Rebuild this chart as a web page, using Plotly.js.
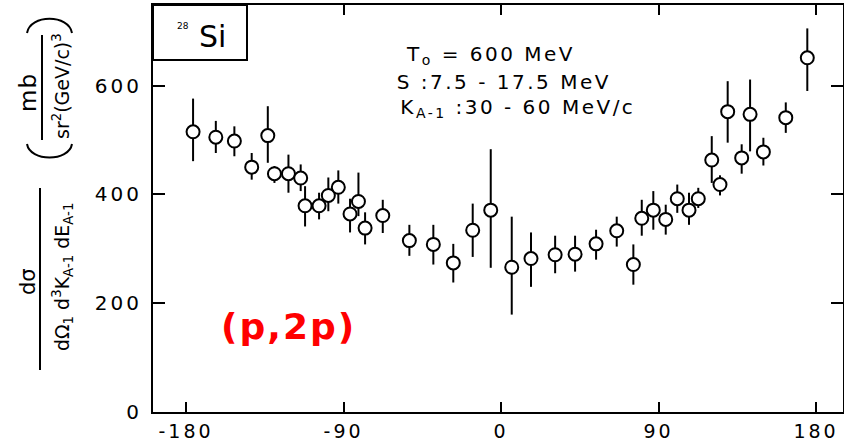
<!DOCTYPE html>
<html>
<head>
<meta charset="utf-8">
<script src="https://cdn.plot.ly/plotly-3.0.1.min.js"></script>
<style>
  html, body { margin: 0; padding: 0; background: #fff; }
  #chart { width: 844px; height: 445px; }
  #chart .xtick text, #chart .ytick text { letter-spacing: 3px; }
  #chart .annotation[data-index="2"] text { letter-spacing: 2px; }
  #chart .annotation[data-index="3"] text,
  #chart .annotation[data-index="4"] text,
  #chart .annotation[data-index="5"] text { letter-spacing: 2.5px; }
  #chart .annotation[data-index="6"] text { letter-spacing: 1px; }
</style>
</head>
<body>
<div id="chart"></div>
<script>
// ---- data ----
const angle = [-176, -163, -152.4, -142.5, -133.3, -129.5, -121.5, -114.5, -112, -104,
  -98.7, -93, -86.3, -81.5, -77.7, -67.6, -52.4, -38.7, -27.3, -16.2,
  -5.9, 6.1, 17.1, 30.9, 42.3, 54.3, 66.1, 75.6, 80.4, 87.0,
  94.1, 100.7, 107.4, 112.7, 120.4, 125.1, 129.5, 137.5, 142.3, 149.9,
  162.7, 175.0];
const crossSection = [515, 505, 498, 450, 508, 438, 438, 430, 379, 379,
  398, 413, 364, 387, 338, 361, 315, 308, 274, 334,
  371, 266, 282, 289, 290, 309, 333, 271, 356, 371,
  354, 392, 371, 392, 463, 418, 552, 467, 547, 478,
  541, 651];
const errPlus = [61, 30, 27, 26, 54, 14, 35, 25, 36, 24,
  33, 31, 28, 53, 29, 29, 29, 36, 35, 49,
  112, 93, 48, 35, 34, 26, 26, 37, 34, 35,
  27, 26, 32, 20, 44, 17, 56, 25, 64, 26,
  28, 54];
const errMinus = [54, 29, 28, 23, 50, 17, 35, 24, 38, 25,
  29, 30, 34, 27, 30, 32, 28, 37, 36, 49,
  106, 87, 52, 34, 32, 29, 29, 37, 32, 36,
  28, 26, 27, 17, 42, 20, 57, 29, 68, 25,
  28, 61];
const xTicks = [-180, -90, 0, 90, 180];
const xTickLabels = ['-180', '-90', '0', '90', '180'];
const yTicks = [0, 200, 400, 600];
const yTickLabels = ['0', '200', '400', '600'];
const nucleus = 'Si';
const massNumber = '28';
const reaction = '(p,2p)';
const condLines = ['T<sub>o</sub> = 600 MeV', 'S :7.5 - 17.5 MeV', 'K<sub>A-1</sub> :30 - 60 MeV/c'];
const unitNum = 'mb';
const unitDen = 'sr<sup>2</sup>(GeV/c)<sup>3</sup>';
const qtyNum = 'dσ';
const qtyDen = 'dΩ<sub>1</sub> d<sup>3</sup>K<sub>A-1</sub> dE<sub>A-1</sub>';

// ---- layout geometry ----
const L = 153, R = 843, T = 5, B = 412;
const px = x => (x - L) / (R - L);
const py = y => (B - y) / (B - T);
const FONT = 'DejaVu Sans, Verdana, sans-serif';

const trace = {
  type: 'scatter', mode: 'markers',
  x: angle, y: crossSection,
  marker: { symbol: 'circle', size: 13, color: '#ffffff', line: { color: '#000', width: 2 } },
  error_y: { type: 'data', symmetric: false, array: errPlus, arrayminus: errMinus,
             color: '#000', thickness: 2, width: 0 },
  hoverinfo: 'x+y', showlegend: false
};

const ann = (x, y, text, size, extra) => Object.assign({
  xref: 'paper', yref: 'paper', x: px(x), y: py(y), text: text, showarrow: false,
  xanchor: 'center', yanchor: 'middle', font: { family: FONT, size: size, color: '#000' }
}, extra || {});

const annotations = [
  ann(212, 36, nucleus, 30),                        // 0
  ann(183, 26, massNumber, 9),                      // 1
  ann(288, 326, reaction, 36, { font: { family: FONT, size: 36, color: '#ff0000', weight: 'bold' } }), // 2
  ann(490, 55, condLines[0], 20),                   // 3
  ann(504, 82, condLines[1], 20),                   // 4
  ann(518, 108, condLines[2], 20),                  // 5
  // y-axis title pieces (rotated)
  ann(28, 93, unitNum, 23, { textangle: -90 }),     // 6
  ann(61, 86, unitDen, 19, { textangle: -90 }),     // 7
  ann(28, 282, qtyNum, 21, { textangle: -90 }),     // 8
  ann(62, 277, qtyDen, 19, { textangle: -90 })      // 9
];

const pth = pts => pts.map(p => p[0] + px(p[1]) + ',' + py(p[2])).join(' ');

const shapes = [
  { type: 'rect', xref: 'paper', yref: 'paper', x0: px(L), x1: px(247), y0: py(60), y1: py(T),
    line: { color: '#000', width: 2 }, fillcolor: '#fff', layer: 'above' },
  { type: 'line', xref: 'paper', yref: 'paper', x0: px(42), x1: px(42), y0: py(35), y1: py(140),
    line: { color: '#000', width: 2 } },
  { type: 'line', xref: 'paper', yref: 'paper', x0: px(40), x1: px(40), y0: py(188), y1: py(370),
    line: { color: '#000', width: 2 } },
  // large brackets around the units, drawn as arcs
  { type: 'path', xref: 'paper', yref: 'paper',
    path: pth([['M', 27, 33], ['C', 30, 14], ['', 69, 14], ['', 72, 33]]),
    line: { color: '#000', width: 2 } },
  { type: 'path', xref: 'paper', yref: 'paper',
    path: pth([['M', 27, 144], ['C', 30, 162], ['', 69, 162], ['', 72, 144]]),
    line: { color: '#000', width: 2 } }
];

const layout = {
  width: 844, height: 445,
  margin: { l: L, r: 844 - R, t: T, b: 445 - B, pad: 0 },
  paper_bgcolor: '#fff', plot_bgcolor: '#fff',
  showlegend: false,
  xaxis: {
    range: [-198.9, 195.4], tickmode: 'array', tickvals: xTicks, ticktext: xTickLabels,
    ticks: 'inside', ticklen: 10, tickwidth: 2, tickcolor: '#000',
    showline: true, linewidth: 2, linecolor: '#000', mirror: 'ticks',
    showgrid: false, zeroline: false, ticklabelstandoff: 1,
    tickfont: { family: FONT, size: 19, color: '#000' }
  },
  yaxis: {
    range: [0, 748], tickmode: 'array', tickvals: yTicks, ticktext: yTickLabels,
    ticks: 'inside', ticklen: 12, tickwidth: 2, tickcolor: '#000',
    showline: true, linewidth: 2, linecolor: '#000', mirror: 'ticks',
    showgrid: false, zeroline: false, ticklabelstandoff: 5,
    tickfont: { family: FONT, size: 20, color: '#000' }
  },
  annotations: annotations,
  shapes: shapes
};

Plotly.newPlot('chart', [trace], layout, { displayModeBar: false, staticPlot: true });
</script>
</body>
</html>
